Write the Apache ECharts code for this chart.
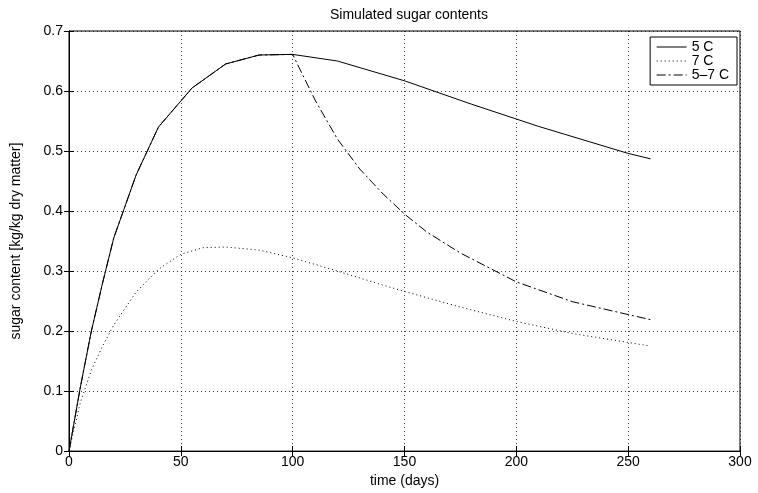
<!DOCTYPE html>
<html>
<head>
<meta charset="utf-8">
<script src="https://cdn.jsdelivr.net/npm/echarts@6/dist/echarts.min.js"></script>
<style>
html,body{margin:0;padding:0;background:#fff;}
#chart{width:758px;height:493px;}
</style>
</head>
<body>
<div id="chart"></div>
<script>
// ---- data ----
const xTicks = [0, 50, 100, 150, 200, 250, 300];
const yTicks = [0, 0.1, 0.2, 0.3, 0.4, 0.5, 0.6, 0.7];

const days5  = [0, 5, 10, 15, 20, 30, 40, 55, 70, 85, 100, 120, 150, 180, 210, 250, 260];
const sugar5 = [0, 0.105, 0.2, 0.28, 0.355, 0.46, 0.54, 0.605, 0.645, 0.66, 0.661, 0.65, 0.617, 0.578, 0.541, 0.496, 0.487];

const days7  = [0, 5, 10, 15, 20, 30, 40, 50, 60, 70, 85, 100, 120, 140, 150, 175, 200, 225, 250, 260];
const sugar7 = [0, 0.08, 0.135, 0.175, 0.21, 0.265, 0.303, 0.328, 0.339, 0.34, 0.335, 0.322, 0.3, 0.277, 0.266, 0.24, 0.216, 0.196, 0.181, 0.175];

const days57  = [0, 5, 10, 15, 20, 30, 40, 55, 70, 85, 100, 110, 120, 130, 140, 150, 160, 175, 200, 225, 250, 260];
const sugar57 = [0, 0.105, 0.2, 0.28, 0.355, 0.46, 0.54, 0.605, 0.645, 0.66, 0.661, 0.585, 0.52, 0.47, 0.43, 0.395, 0.365, 0.33, 0.282, 0.249, 0.2275, 0.219];

const names = ['5 C', '7 C', '5\u20137 C'];

function pairs(xs, ys){ return xs.map((x,i)=>[x, ys[i]]); }

const FONT = 'Liberation Sans, Arial, Helvetica, sans-serif';
const FS = 14;
const chart = echarts.init(document.getElementById('chart'), null, {renderer:'canvas'});

const gridDotted = {show:true, lineStyle:{color:'#000', width:1, type:[1,3], opacity:0.75}};
const tickIn = {show:true, inside:true, length:5, lineStyle:{color:'#000'}};
const lineStyles = [
  {color:'#000', width:1, type:'solid'},
  {color:'#000', width:1, type:[1,3]},
  {color:'#000', width:1, type:[9,3,2,3]}
];

chart.setOption({
  animation:false,
  backgroundColor:'#fff',
  title:{
    text:'Simulated sugar contents', left:404, top:3, textAlign:'center',
    textStyle:{fontFamily:FONT, fontSize:FS, fontWeight:'normal', color:'#000'}
  },
  legend:{
    data:names.map((n,i)=>({name:n, itemStyle:{opacity:0}, lineStyle:lineStyles[i]})),
    orient:'vertical', right:21, top:37,
    itemWidth:30, itemHeight:10, itemGap:0,
    backgroundColor:'#fff', borderColor:'#000', borderWidth:1, borderRadius:0,
    padding:[3,8,3,6],
    textStyle:{fontFamily:FONT, fontSize:FS, color:'#000'}
  },
  grid:{left:69, right:18, top:31, bottom:33, show:true, borderColor:'#000', borderWidth:1, backgroundColor:'transparent'},
  xAxis:[{
    type:'value', min:xTicks[0], max:xTicks[xTicks.length-1], interval:50,
    name:'time (days)', nameLocation:'middle', nameGap:21,
    nameTextStyle:{fontFamily:FONT, fontSize:FS, color:'#000'},
    axisLine:{show:true, lineStyle:{color:'#000', width:1}},
    axisTick:tickIn,
    axisLabel:{fontFamily:FONT, fontSize:FS, color:'#000', margin:4},
    splitLine:gridDotted
  },{
    type:'value', position:'top', min:0, max:300, interval:50,
    axisLine:{show:true, lineStyle:{color:'#000'}}, axisTick:tickIn,
    axisLabel:{show:false}, splitLine:{show:false}
  }],
  yAxis:[{
    type:'value', min:yTicks[0], max:yTicks[yTicks.length-1], interval:0.1,
    name:'sugar content [kg/kg dry matter]', nameLocation:'middle', nameGap:46,
    nameTextStyle:{fontFamily:FONT, fontSize:FS, color:'#000'},
    axisLine:{show:true, lineStyle:{color:'#000', width:1}},
    axisTick:tickIn,
    axisLabel:{fontFamily:FONT, fontSize:FS, color:'#000', margin:6,
      formatter:v=>String(Math.round(v*10)/10)},
    splitLine:gridDotted
  },{
    type:'value', position:'right', min:0, max:0.7, interval:0.1,
    axisLine:{show:true, lineStyle:{color:'#000'}}, axisTick:tickIn,
    axisLabel:{show:false}, splitLine:{show:false}
  }],
  series:[
    {name:names[0], type:'line', xAxisIndex:0, yAxisIndex:0, data:pairs(days5, sugar5),
     symbol:'none', lineStyle:lineStyles[0], itemStyle:{color:'#000'}},
    {name:names[1], type:'line', xAxisIndex:0, yAxisIndex:0, data:pairs(days7, sugar7),
     symbol:'none', lineStyle:lineStyles[1], itemStyle:{color:'#000'}},
    {name:names[2], type:'line', xAxisIndex:0, yAxisIndex:0, data:pairs(days57, sugar57),
     symbol:'none', lineStyle:lineStyles[2], itemStyle:{color:'#000'}}
  ]
});
</script>
</body>
</html>
